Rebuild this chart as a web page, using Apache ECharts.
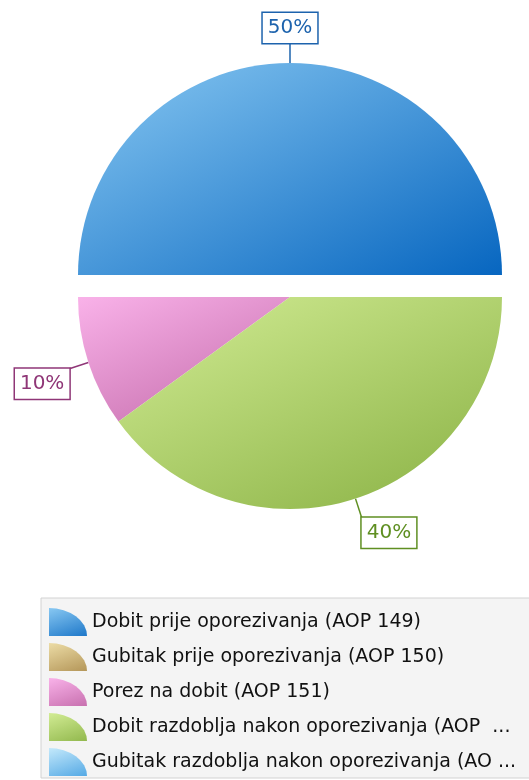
<!DOCTYPE html>
<html>
<head>
<meta charset="utf-8">
<script src="https://cdn.jsdelivr.net/npm/echarts@6/dist/echarts.min.js"></script>
<style>
  html, body { margin: 0; padding: 0; background: #fff; }
  #chart { width: 529px; height: 780px; }
</style>
</head>
<body>
<div id="chart"></div>
<script>
// categories and values (percent of total)
const categories = [
  "Dobit prije oporezivanja (AOP 149)",
  "Gubitak prije oporezivanja (AOP 150)",
  "Porez na dobit (AOP 151)",
  "Dobit razdoblja nakon oporezivanja (AOP 152)",
  "Gubitak razdoblja nakon oporezivanja (AOP 153)"
];
const values = [50, 0, 10, 40, 0];

// [light, dark, label colour]
const palette = [
  ["#88c8f2", "#0766c0", "#1d63ad"],
  ["#ecdca6", "#a88748", "#8a6d30"],
  ["#f9b2e9", "#bd62a2", "#8f3677"],
  ["#d2ec94", "#84ad3e", "#5f8f22"],
  ["#c4e9fb", "#3c9be0", "#1d63ad"]
];

function grad(c) {
  return new echarts.graphic.LinearGradient(0, 0, 0.4, 1.6, [
    { offset: 0, color: c[0] },
    { offset: 1, color: c[1] }
  ]);
}

const total = values.reduce((a, b) => a + b, 0);

const pieData = categories.map((name, i) => ({
  name: name,
  value: values[i],
  selected: i === 0,
  itemStyle: { color: grad(palette[i]) },
  label: {
    show: values[i] > 0,
    color: palette[i][2],
    borderColor: palette[i][2]
  },
  labelLine: {
    show: values[i] > 0,
    lineStyle: { color: palette[i][2], width: 1.5 }
  }
}));

let myChart = echarts.init(document.getElementById("chart"));
let option = {
  animation: false,
  legend: {
    orient: "vertical",
    left: 41,
    top: 598,
    backgroundColor: "#f4f4f4",
    borderColor: "#d2d2d2",
    borderWidth: 1,
    padding: [10, 30, 2, 8],
    itemWidth: 38,
    itemHeight: 28,
    itemGap: 7,
    symbolKeepAspect: false,
    icon: "path://M0,28 L0,0 A37,28 0 0 1 37,28 Z",
    selectedMode: false,
    textStyle: {
      fontFamily: "DejaVu Sans",
      fontSize: 19,
      color: "#111",
      width: 428,
      overflow: "truncate",
      ellipsis: " ..."
    },
    data: categories
  },
  series: [
    {
      type: "pie",
      center: [290, 297],
      radius: 212,
      startAngle: 0,
      clockwise: false,
      selectedMode: "single",
      selectedOffset: 22,
      silent: true,
      emphasis: { disabled: true },
      data: pieData,
      label: {
        position: "outside",
        formatter: p => Math.round(p.value / total * 100) + "%",
        fontFamily: "DejaVu Sans",
        fontSize: 20,
        lineHeight: 20,
        backgroundColor: "#fff",
        borderWidth: 1.5,
        padding: [5, 5],
        overflow: "none",
        edgeDistance: 0
      },
      labelLine: { length: 20, length2: 0, smooth: false },
      labelLayout: function (params) {
        const pts = params.labelLinePoints;
        if (!pts) return {};
        const a = pts[0], b = pts[1];
        const dx = b[0] - a[0], dy = b[1] - a[1];
        const len = Math.hypot(dx, dy) || 1;
        const ux = dx / len, uy = dy / len;
        const align = ux > 0.2 ? "left" : (ux < -0.2 ? "right" : "center");
        return {
          x: b[0],
          y: b[1],
          dx: align === "center" ? 5 : 0,
          align: align,
          verticalAlign: uy > 0 ? "top" : "bottom",
          labelLinePoints: [a, b]
        };
      }
    }
  ]
};
myChart.setOption(option);
</script>
</body>
</html>
